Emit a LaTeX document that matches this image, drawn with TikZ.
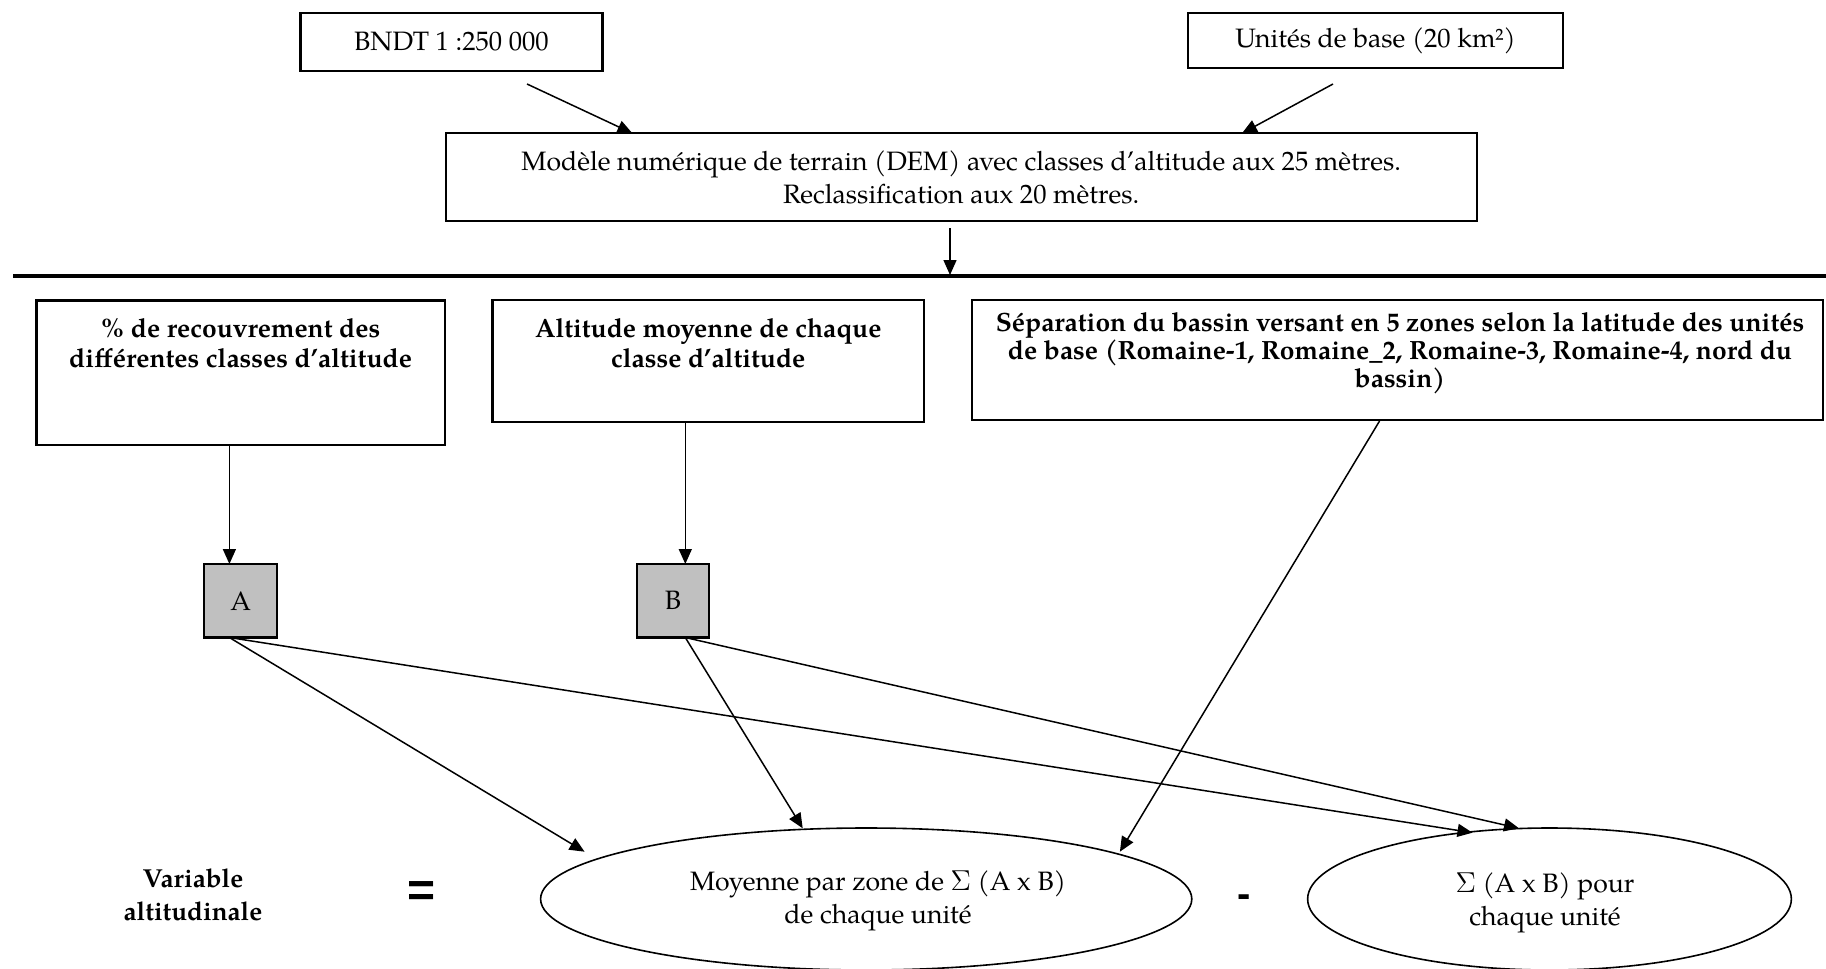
\documentclass[tikz,border=0pt]{standalone}
\usepackage{fontspec}
\setmainfont{TeX Gyre Pagella}
\newfontfamily\sansfnt{Liberation Sans}
\usetikzlibrary{arrows.meta,shapes.geometric}
\tikzset{
  box/.style={draw, line width=1.1pt, rectangle, inner sep=0pt},
  gbox/.style={box, fill={rgb,255:red,192;green,192;blue,192}},
  arr/.style={-{Triangle[length=7.5pt,width=6.5pt]}, line width=0.75pt},
  conn/.style={line width=0.75pt},
  ell/.style={draw, ellipse, line width=0.8pt, inner sep=0pt},
  txt/.style={align=center, font=\fontsize{13.3}{16.5}\selectfont},
  btxt/.style={align=center, font=\fontsize{13.2}{15}\selectfont\bfseries},
  optxt/.style={font=\sansfnt\bfseries\fontsize{24}{24}\selectfont},
}
\begin{document}
\begin{tikzpicture}[x=0.5pt,y=-0.5pt]
\useasboundingbox (0,0) rectangle (1826,969);

% top boxes
\node[box, minimum width=151pt, minimum height=29pt, txt] (bndt) at (451.5,41.9) {BNDT 1 :250 000};
\node[box, minimum width=187.5pt, minimum height=27.8pt, txt] (unit) at (1375.6,40.5) {Unités de base (20 km²)};
\node[box, minimum width=515.4pt, minimum height=43.7pt, txt] (dem) at (961.2,177)
  {Modèle numérique de terrain (DEM) avec classes d’altitude aux 25 mètres.\\Reclassification aux 20 mètres.};

\coordinate (s1) at (527,84);
\coordinate (e1a) at (632.4,133.3);
\coordinate (s2) at (1333,84);
\coordinate (e2a) at (1242,133.3);
\draw[arr] (s1) -- (e1a);
\draw[arr] (s2) -- (e2a);

% separator
\coordinate (sepL) at (13,276);
\coordinate (sepR) at (1826,276);
\draw[line width=2.3pt] (sepL) -- (sepR);
\coordinate (s3) at (950,228);
\coordinate (e3) at (950,275);
\draw[arr] (s3) -- (e3);

% middle boxes
\node[box, minimum width=204.2pt, minimum height=72.25pt] (b1) at (240.6,372.75) {};
\node[btxt] (b1t) at (240.6,343.3) {\% de recouvrement des\\différentes classes d’altitude};
\node[box, minimum width=215.75pt, minimum height=60.85pt] (b2) at (708.25,360.85) {};
\node[btxt] (b2t) at (708.25,343.3) {Altitude moyenne de chaque\\classe d’altitude};
\node[box, minimum width=425.5pt, minimum height=60pt] (b3) at (1397.75,360) {};
\node[btxt, font=\fontsize{13.2}{13.9}\selectfont\bfseries] (b3t) at (1400,353.5)
  {Séparation du bassin versant en 5 zones selon la latitude des unités\\de base (Romaine-1, Romaine\_2, Romaine-3, Romaine-4, nord du\\bassin)};

% A and B
\node[gbox, minimum width=36.35pt, minimum height=36.75pt, txt] (A) at (240.65,600.75) {A};
\node[gbox, minimum width=36pt, minimum height=36.75pt, txt] (B) at (673,600.75) {B};

\coordinate (Atop) at (229.4,564);
\coordinate (Abot) at (229.4,637.5);
\coordinate (Btop) at (685.3,564);
\coordinate (Bbot) at (685.3,637.5);
\draw[arr] (b1.south -| Atop) -- (Atop);
\draw[arr] (b2.south -| Btop) -- (Btop);

% ellipses
\node[ell, minimum width=325.6pt, minimum height=71pt] (e1) at (866.2,899) {};
\node[txt] (e1t) at (878,901) {Moyenne par zone de $\Sigma$ (A x B)\\de chaque unité};
\node[ell, minimum width=241.85pt, minimum height=71pt] (e2) at (1549.5,899) {};
\node[txt] (e2t) at (1545,903) {$\Sigma$ (A x B) pour\\chaque unité};

\coordinate (tA1) at (584.6,851.7);
\coordinate (tA2) at (1472.5,832.7);
\coordinate (tB1) at (802.7,828.3);
\coordinate (tB2) at (1519,828.3);
\coordinate (tC1) at (1119.9,851.7);
\draw[arr] (Abot) -- (tA1);
\draw[arr] (Abot) -- (tA2);
\draw[arr] (Bbot) -- (tB1);
\draw[arr] (Bbot) -- (tB2);
\draw[arr] (b3.south -| 1379.5,0) -- (tC1);

% equation labels
\node[btxt, font=\fontsize{13}{16.5}\selectfont\bfseries] (var) at (193,895) {Variable\\altitudinale};
\node[optxt] (eq) at (421.7,894) {=};
\node[optxt, font=\sansfnt\bfseries\fontsize{20}{20}\selectfont] (minus) at (1244,901) {-};
\end{tikzpicture}
\end{document}
